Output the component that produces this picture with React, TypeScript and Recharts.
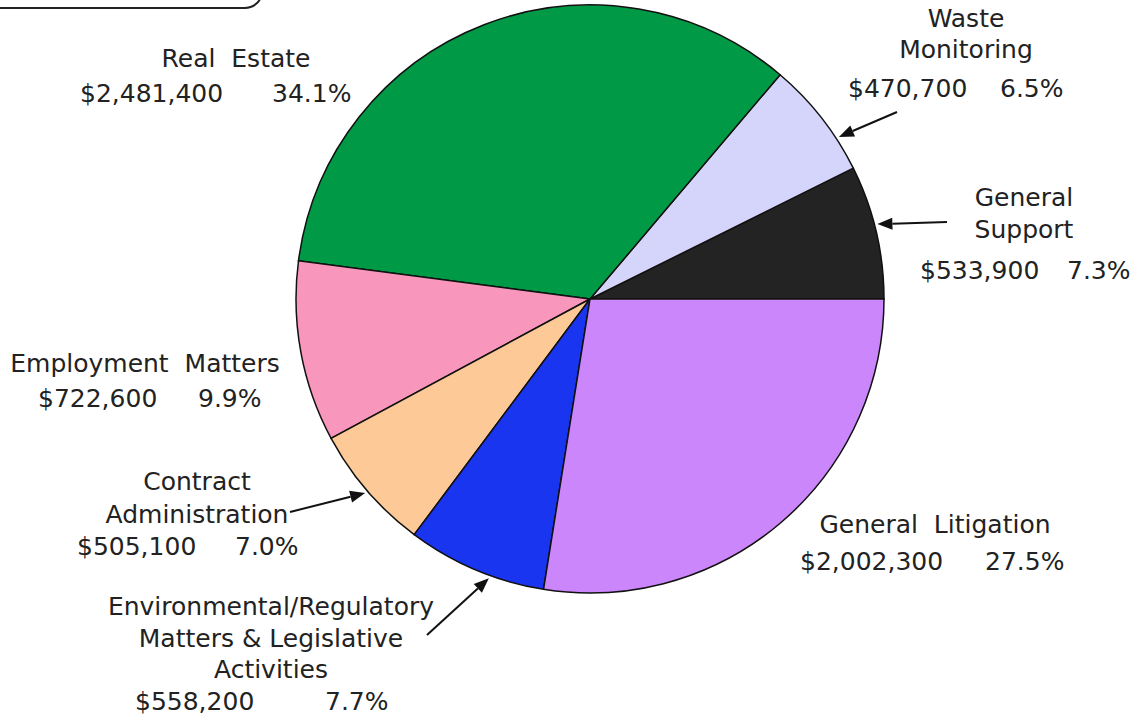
import { PieChart, Pie, Cell } from "recharts"

const categories = [
  "General Support",
  "Waste Monitoring",
  "Real Estate",
  "Employment Matters",
  "Contract Administration",
  "Environmental/Regulatory Matters & Legislative Activities",
  "General Litigation",
]
const amounts = [533900, 470700, 2481400, 722600, 505100, 558200, 2002300]
const percents = ["7.3%", "6.5%", "34.1%", "9.9%", "7.0%", "7.7%", "27.5%"]
const colors = ["#232323", "#d5d5fb", "#009a46", "#f896bb", "#fdc997", "#1a35f0", "#cc86fb"]

// label placement, kept apart from the data
const labelLayout = [
  { lines: ["General", "Support"], x: 1024, ys: [206, 238], amtX: 920, pctX: 1067, valY: 279, tail: [947, 222], tipOffset: 1.4 },
  { lines: ["Waste", "Monitoring"], x: 966, ys: [27, 58], amtX: 848, pctX: 1000, valY: 97, tail: [897, 112], tipOffset: -5 },
  { lines: ["Real  Estate"], x: 236, ys: [67], amtX: 80, pctX: 272, valY: 102 },
  { lines: ["Employment  Matters"], x: 145, ys: [372], amtX: 38, pctX: 198, valY: 407 },
  { lines: ["Contract", "Administration"], x: 197, ys: [490, 523], amtX: 77, pctX: 235, valY: 555, tail: [290, 512], tipOffset: 0 },
  { lines: ["Environmental/Regulatory", "Matters & Legislative", "Activities"], x: 271, ys: [615, 647, 678], amtX: 135, pctX: 325, valY: 710, tail: [427, 635], tipOffset: 3 },
  { lines: ["General  Litigation"], x: 935, ys: [533], amtX: 800, pctX: 985, valY: 570 },
]

const data = categories.map((name, i) => ({ name, value: amounts[i] }))

const fmt = (v: number) => "$" + v.toLocaleString("en-US")

const textStyle = { fontFamily: "DejaVu Sans", fontSize: 25, fill: "#222", whiteSpace: "pre" as const }

function renderLabel(props: any) {
  const { cx, cy, midAngle, outerRadius, index } = props
  const l = labelLayout[index]
  let arrow = null
  if (l.tail) {
    const a = ((midAngle + l.tipOffset) * Math.PI) / 180
    const tx = cx + (outerRadius + 3) * Math.cos(a)
    const ty = cy - (outerRadius + 3) * Math.sin(a)
    const dx = tx - l.tail[0]
    const dy = ty - l.tail[1]
    const len = Math.sqrt(dx * dx + dy * dy)
    const ux = dx / len
    const uy = dy / len
    const bx = tx - ux * 15
    const by = ty - uy * 15
    arrow = (
      <g>
        <line x1={l.tail[0]} y1={l.tail[1]} x2={bx} y2={by} stroke="#111" strokeWidth={2} />
        <polygon
          points={`${tx},${ty} ${bx - uy * 6},${by + ux * 6} ${bx + uy * 6},${by - ux * 6}`}
          fill="#111"
        />
      </g>
    )
  }
  return (
    <g key={`lbl-${index}`}>
      {l.lines.map((t, j) => (
        <text key={j} x={l.x} y={l.ys[j]} textAnchor="middle" style={textStyle}>
          {t}
        </text>
      ))}
      <text x={l.amtX} y={l.valY} style={textStyle}>
        {fmt(amounts[index])}
      </text>
      <text x={l.pctX} y={l.valY} style={textStyle}>
        {percents[index]}
      </text>
      {arrow}
    </g>
  )
}

export default function App() {
  return (
    <div style={{ position: "absolute", left: 0, top: 0, width: 1136, height: 721, background: "#fff", overflow: "hidden" }}>
      <div
        style={{
          position: "absolute",
          left: -20,
          top: -40,
          width: 283,
          height: 49,
          boxSizing: "border-box",
          border: "2px solid #222",
          borderRadius: 18,
        }}
      />
      <PieChart width={1136} height={721} margin={{ top: 0, right: 0, bottom: 0, left: 0 }}>
        <Pie
          data={data}
          dataKey="value"
          cx={590}
          cy={299}
          outerRadius={294}
          startAngle={0}
          endAngle={360}
          stroke="#111"
          strokeWidth={1.5}
          label={renderLabel}
          labelLine={false}
          isAnimationActive={false}
        >
          {data.map((d, i) => (
            <Cell key={d.name} fill={colors[i]} />
          ))}
        </Pie>
      </PieChart>
    </div>
  )
}
